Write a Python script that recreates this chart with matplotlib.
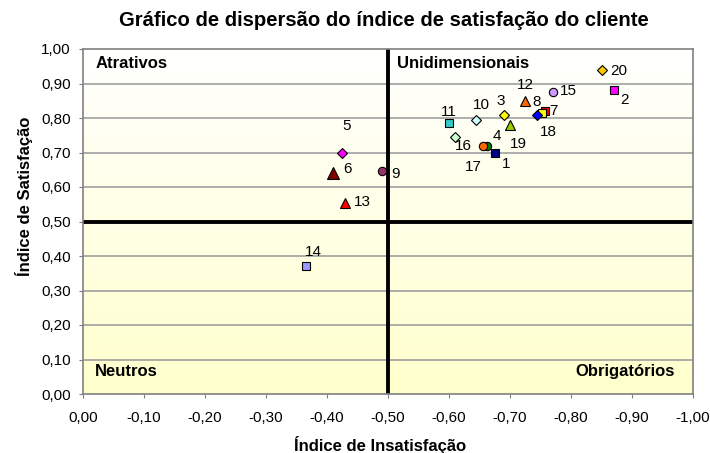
import numpy as np
import matplotlib
matplotlib.use("Agg")
import matplotlib.pyplot as plt
from matplotlib.colors import LinearSegmentedColormap

plt.rcParams['font.family'] = ['Liberation Sans', 'DejaVu Sans']

# dados
ids = [str(i) for i in range(1, 21)]
insatisf = [-0.675, -0.87, -0.69, -0.655, -0.425, -0.41, -0.757, -0.752, -0.49, -0.645,
            -0.60, -0.725, -0.43, -0.365, -0.77, -0.61, -0.663, -0.744, -0.70, -0.85]
satisf = [0.70, 0.88, 0.81, 0.72, 0.70, 0.64, 0.82, 0.815, 0.645, 0.795,
          0.785, 0.85, 0.555, 0.37, 0.875, 0.745, 0.72, 0.81, 0.78, 0.94]
x_ticks = [0.0, -0.1, -0.2, -0.3, -0.4, -0.5, -0.6, -0.7, -0.8, -0.9, -1.0]
y_ticks = [0.0, 0.1, 0.2, 0.3, 0.4, 0.5, 0.6, 0.7, 0.8, 0.9, 1.0]
quadrantes = ['Atrativos', 'Unidimensionais', 'Neutros', 'Obrigatórios']

# estilo de cada ponto
marcadores = ['s', 's', 'D', 'o', 'D', '^', 's', 's', 'o', 'D',
              's', '^', '^', 's', 'o', 'D', 'o', 'D', '^', 'D']
cores = ['#000080', '#FF00FF', '#FFFF00', '#FF6600', '#FF00FF', '#800000', '#FF0000', '#FFFF00',
         '#993366', '#CCFFFF', '#33CCCC', '#FF6600', '#FF0000', '#9999FF', '#CC99FF', '#CCFFCC',
         '#008000', '#0000FF', '#99CC00', '#FFCC00']
tamanhos = [5.5, 5.5, 5, 6, 5, 9, 5.5, 5.5, 6, 5,
            5.5, 7, 7, 5.5, 6, 5, 6, 5, 7, 5]
# deslocamento dos rotulos (pixels)
offsets = [(11, -12), (11, -10), (-3, 14), (14, 10), (4, 26), (14, 4), (9, 0), (-5, 11),
           (14, -3), (5, 15), (0, 11), (0, 16), (17, 1), (8, 14), (16, 1), (8, -9),
           (-14, -21), (12, -17), (8, -19), (17, -1)]
# ordem de desenho (os de tras primeiro)
ordem = [16, 3, 6, 7, 17, 0, 1, 2, 4, 5, 8, 9, 10, 11, 12, 13, 14, 15, 18, 19]

fig = plt.figure(figsize=(7.1, 4.53), dpi=100)
ax = fig.add_axes([83 / 710, 59 / 453, 610 / 710, 345 / 453])

# fundo em degrade
cmap = LinearSegmentedColormap.from_list('fundo', ['#FFFFCC', '#FFFFFF'])
grad = np.linspace(0, 1, 256).reshape(-1, 1)
ax.imshow(grad, extent=[0, -1, 0, 1], origin='lower', aspect='auto', cmap=cmap, zorder=0)

ax.set_xlim(0, -1)
ax.set_ylim(0, 1)
ax.set_xticks(x_ticks)
ax.set_yticks(y_ticks)
fmt = lambda v: ('%.2f' % abs(v) if v == 0 else '%.2f' % v).replace('.', ',')
ax.set_xticklabels([fmt(v) for v in x_ticks], fontsize=11)
ax.set_yticklabels([fmt(v) for v in y_ticks], fontsize=11)
ax.tick_params(length=3, color='#808080')
ax.tick_params(axis='y', pad=6)
ax.tick_params(axis='x', pad=9)

for v in y_ticks[1:-1]:
    ax.axhline(v, color='#A0A0A0', lw=1.2, zorder=1)
for s in ax.spines.values():
    s.set_color('#808080')
    s.set_linewidth(1.2)

ax.axhline(0.5, color='black', lw=2.8, zorder=2)
ax.axvline(-0.5, color='black', lw=2.8, zorder=2)

for i in ordem:
    ax.plot(insatisf[i], satisf[i], marker=marcadores[i], ms=tamanhos[i], color=cores[i],
            mec='black', mew=0.8, ls='none', zorder=3, clip_on=False)
for i in range(len(ids)):
    ax.annotate(ids[i], (insatisf[i], satisf[i]), xytext=offsets[i], textcoords='offset pixels',
                ha='center', va='center', fontsize=11, zorder=4)

ax.text(-0.02, 0.958, quadrantes[0], fontsize=12, fontweight='bold', va='center', ha='left')
ax.text(-0.515, 0.958, quadrantes[1], fontsize=12, fontweight='bold', va='center', ha='left')
ax.text(-0.02, 0.065, quadrantes[2], fontsize=12, fontweight='bold', va='center', ha='left')
ax.text(-0.97, 0.065, quadrantes[3], fontsize=12, fontweight='bold', va='center', ha='right')

fig.text(384 / 710, 1 - 21 / 453, 'Gráfico de dispersão do índice de satisfação do cliente',
         fontsize=14.6, fontweight='bold', ha='center', va='center')
fig.text(380 / 710, 1 - 445 / 453, 'Índice de Insatisfação', fontsize=12, fontweight='bold',
         ha='center', va='center')
fig.text(24 / 710, 1 - 196 / 453, 'Índice de Satisfação', fontsize=12, fontweight='bold',
         ha='center', va='center', rotation=90)

fig.savefig('out.png', dpi=100)
